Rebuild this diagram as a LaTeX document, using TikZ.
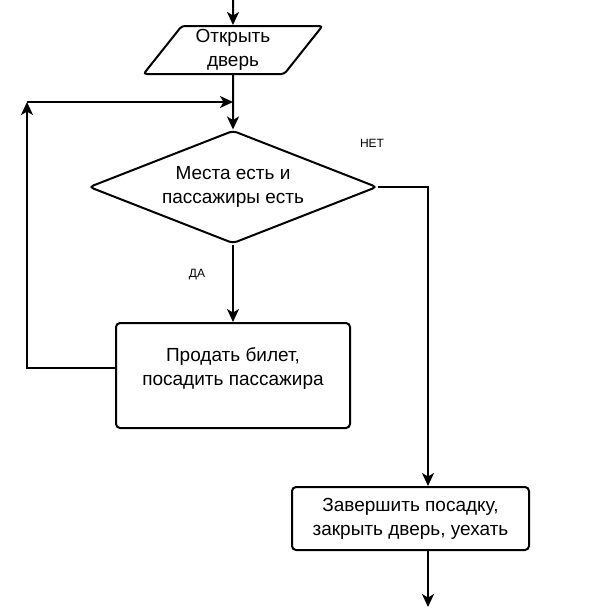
\documentclass[tikz,border=0pt]{standalone}
\usepackage{fontspec}
\setmainfont{Liberation Sans}
\usetikzlibrary{shapes.geometric,arrows.meta}

\begin{document}
\begin{tikzpicture}[x=1pt, y=-1pt, line width=2pt,
  font=\fontsize{19}{24}\selectfont,
  flow/.style = {-{Stealth[length=13pt,width=12pt,inset=3.5pt]}},
  block/.style = {draw, rounded corners=4pt, align=center, inner sep=0pt},
  io/.style = {draw, trapezium, trapezium left angle=56, trapezium right angle=124,
    trapezium stretches=true, rounded corners=3pt, align=center, inner sep=0pt},
  cond/.style = {draw, diamond, shape aspect=2.55, rounded corners=4pt, align=center, inner sep=0pt},
  tag/.style = {font=\fontsize{12}{14}\selectfont}]
	\useasboundingbox (0,0) rectangle (603,611);
	\coordinate (start) at (233,0);
	\node[io, minimum width=179pt, minimum height=48pt] (door) at (233,50) {Открыть\\дверь};
	\coordinate (merge) at (233,102);
	\node[cond, minimum width=288pt, minimum height=113pt] (check) at (233,187) {Места есть и\\пассажиры есть};
	\node[block, minimum width=234pt, minimum height=105pt, text depth=18pt] (sell) at (233,375.5) {Продать билет,\\посадить пассажира};
	\coordinate (corner) at (27,102);
	\coordinate (turn) at (428,187);
	\node[block, minimum width=237pt, minimum height=63pt] (leave) at (410.5,518.5) {Завершить посадку,\\закрыть дверь, уехать};
	\coordinate (finish) at (428,607);
	\node[tag] (no) at (372,143) {НЕТ};
	\node[tag] (yes) at (197,275) {ДА};

	\draw[flow] (start) -- (door.north);
	\draw[flow] (door.south) -- (check.north);
	\draw[flow] (check.south) -- (sell.north);
	\draw[flow] ([yshift=8pt]sell.west) -| (corner);
	\draw[flow] (corner) -- (merge);
	\draw[flow] (check.east) -- (turn) -- (turn |- leave.north);
	\draw[flow] (leave.south -| finish) -- (finish);
\end{tikzpicture}
\end{document}
